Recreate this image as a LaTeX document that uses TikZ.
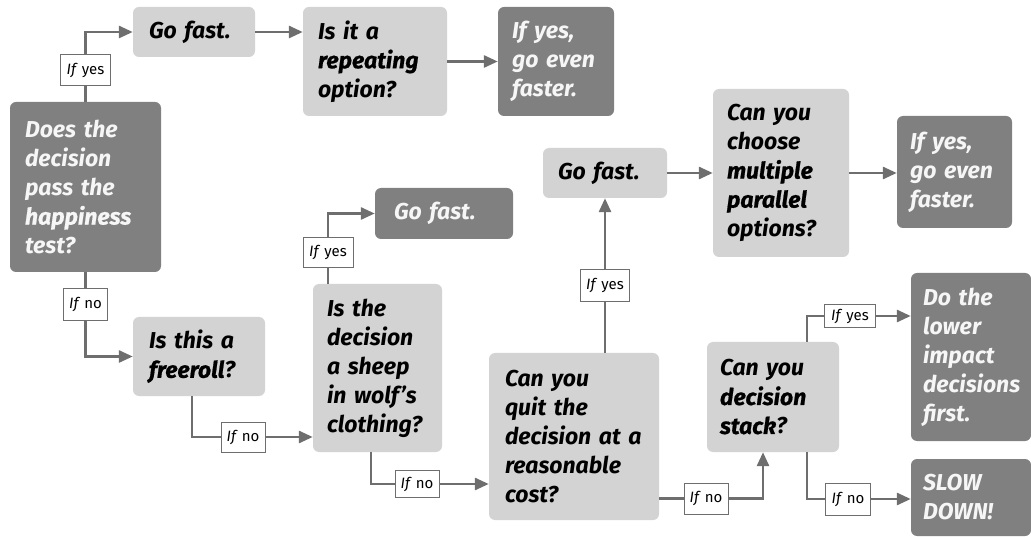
\documentclass[tikz,border=0pt]{standalone}
\usepackage{fontspec}
\setmainfont{Fira Sans}
\usetikzlibrary{arrows.meta}
\definecolor{lightbox}{RGB}{211,211,211}
\definecolor{darkbox}{RGB}{128,128,128}
\definecolor{lineclr}{RGB}{110,110,110}
\definecolor{darktext}{RGB}{246,246,246}
\tikzset{
  bx/.style={rounded corners=6pt, fill=lightbox, text=black, align=left,
    font=\fontsize{23}{29}\selectfont\bfseries\itshape, inner sep=0pt},
  dbx/.style={bx, fill=darkbox, text=darktext},
  lbl/.style={draw=lineclr, fill=white, line width=0.8pt,
    font=\fontsize{15}{16}\selectfont, inner sep=0pt},
  conn/.style={draw=lineclr, line width=2.8pt, -{Triangle[length=14pt,width=12pt]}},
}
\newcommand{\yes}{\textit{If} yes}
\newcommand{\no}{\textit{If} no}
\newcommand{\hv}[1]{{\addfontfeature{FakeBold=0.8}#1}}
\begin{document}
\begin{tikzpicture}[x=1pt,y=-1pt]
\useasboundingbox (0,0) rectangle (1031,537);
% boxes
\node[dbx, minimum width=151pt, minimum height=170pt, text width=121pt] (dk1) at (85.5,187) {Does the\\ decision\\ pass the\\ \hv{happiness}\\ test?};
\node[bx, minimum width=122pt, minimum height=50pt, text width=90pt] (gf1) at (194,32) {Go fast.};
\node[bx, minimum width=144pt, minimum height=109pt, text width=114pt] (rep) at (375,61.5) {Is it a\\ \hv{repeating}\\ option?};
\node[dbx, minimum width=116pt, minimum height=109pt, text width=88pt] (fast1) at (556,61.5) {If yes,\\ go even\\ faster.};
\node[dbx, minimum width=138pt, minimum height=51pt, text width=100pt] (gf2) at (444,213.5) {Go fast.};
\node[bx, minimum width=129pt, minimum height=168pt, text width=101pt] (sheep) at (377.5,368) {Is the\\ decision\\ a sheep\\ in wolf’s\\ clothing?};
\node[bx, minimum width=132pt, minimum height=79pt, text width=100pt] (free) at (199,356.5) {Is this a\\ \hv{freeroll}?};
\node[bx, minimum width=170pt, minimum height=167pt, text width=138pt] (quit) at (574,436.5) {Can you\\ quit the\\ decision at a\\ reasonable\\ cost?};
\node[bx, minimum width=124pt, minimum height=50pt, text width=94pt] (gf3) at (605,173) {Go fast.};
\node[bx, minimum width=136pt, minimum height=168pt, text width=108pt] (mult) at (781,173) {Can you\\ choose\\ \hv{multiple}\\ \hv{parallel}\\ options?};
\node[dbx, minimum width=115pt, minimum height=112pt, text width=89pt] (fast2) at (954.5,172) {If yes,\\ go even\\ faster.};
\node[bx, minimum width=132pt, minimum height=110pt, text width=106pt] (stack) at (773,397) {Can you\\ \hv{decision}\\ \hv{stack}?};
\node[dbx, minimum width=120pt, minimum height=168pt, text width=96pt] (lower) at (971,357) {Do the\\ lower\\ impact\\ decisions\\ first.};
\node[dbx, minimum width=120pt, minimum height=77pt, text width=96pt] (slow) at (971,497.5) {SLOW\\ DOWN!};
% label positions
\coordinate (c1) at (85.5,70);
\coordinate (c2) at (85.5,304);
\coordinate (c3) at (243,437);
\coordinate (c4) at (328,252);
\coordinate (c5) at (417,484);
\coordinate (t5) at (371,484);
\coordinate (c6) at (605,285);
\coordinate (c7) at (706,498.5);
\coordinate (c8) at (850,316);
\coordinate (c9) at (848,499);
% connectors
\draw[conn] (dk1.north) |- (gf1.west);
\draw[conn] (gf1.east) -- (gf1.east -| rep.west);
\draw[conn] (rep.east) -- (fast1.west);
\draw[conn] (dk1.south) |- (free.west);
\draw[conn] ([xshift=-7pt]free.south) |- (sheep.west |- c3);
\draw[conn] (sheep.north -| c4) |- (gf2.west);
\draw[conn] (sheep.south -| t5) |- (quit.west |- t5);
\draw[conn] (quit.north -| gf3.south) -- (gf3.south);
\draw[conn] (gf3.east) -- (gf3.east -| mult.west);
\draw[conn] (mult.east) -- (mult.east -| fast2.west);
\draw[conn] (quit.east |- c7) -| ([xshift=-10pt]stack.south);
\draw[conn] ([xshift=34pt]stack.north) |- (lower.west |- c8);
\draw[conn] ([xshift=34pt]stack.south) |- (slow.west |- c9);
% labels
\node[lbl, minimum width=50pt, minimum height=31pt] (l1) at (c1) {\yes};
\node[lbl, minimum width=44pt, minimum height=32pt] (l2) at (c2) {\no};
\node[lbl, minimum width=44pt, minimum height=30pt] (l3) at (c3) {\no};
\node[lbl, minimum width=50pt, minimum height=30pt] (l4) at (c4) {\yes};
\node[lbl, minimum width=44pt, minimum height=27pt] (l5) at (c5) {\no};
\node[lbl, minimum width=49pt, minimum height=32pt] (l6) at (c6) {\yes};
\node[lbl, minimum width=44pt, minimum height=31pt] (l7) at (c7) {\no};
\node[lbl, minimum width=51pt, minimum height=23pt] (l8) at (c8) {\yes};
\node[lbl, minimum width=45pt, minimum height=32pt] (l9) at (c9) {\no};
\end{tikzpicture}
\end{document}
